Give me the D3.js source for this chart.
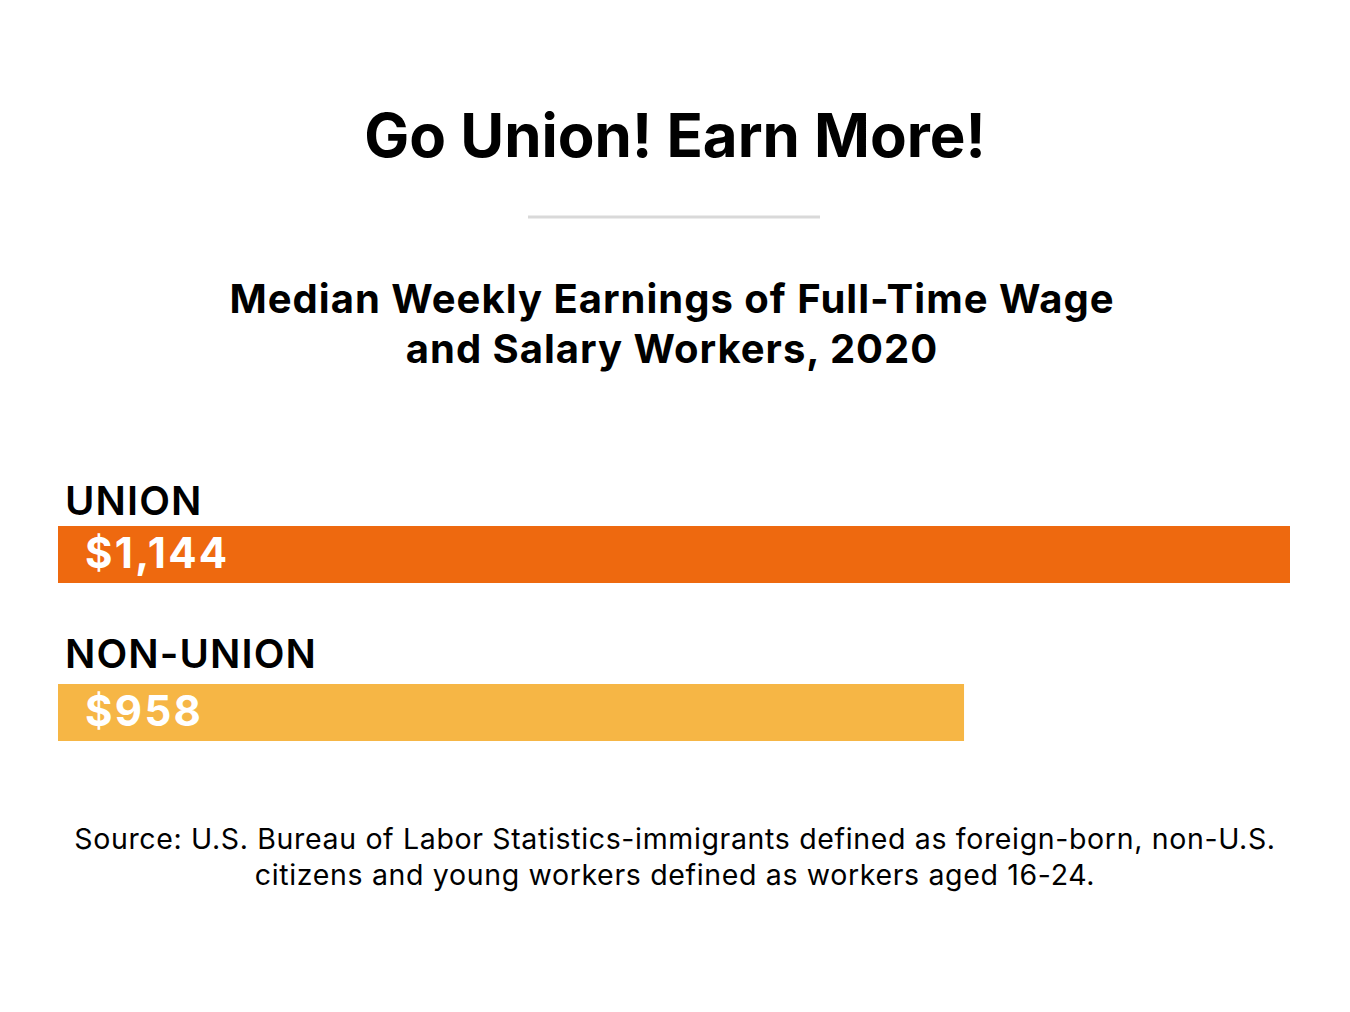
<!DOCTYPE html>
<html><head><meta charset="utf-8">
<script src="https://cdn.jsdelivr.net/npm/d3@7"></script>
<style>
body{margin:0;background:#fff;}
svg{display:block;font-family:Inter, "Noto Sans", sans-serif;}
</style></head>
<body>
<script>
const categories = ["UNION", "NON-UNION"];
const values = [1144, 958];
const valueLabels = ["$1,144", "$958"];
const colors = ["#EE690F", "#F6B645"];
const title = "Go Union! Earn More!";
const subtitleLines = ["Median Weekly Earnings of Full-Time Wage", "and Salary Workers, 2020"];
const sourceLines = ["Source: U.S. Bureau of Labor Statistics-immigrants defined as foreign-born, non-U.S.", "citizens and young workers defined as workers aged 16-24."];

const W = 1350, H = 1012;
const svg = d3.select("body").append("svg").attr("width", W).attr("height", H);

svg.append("text").attr("x", 675).attr("y", 157).attr("text-anchor", "middle")
  .attr("font-size", 60).attr("font-weight", 700).attr("fill", "#000").text(title);

svg.append("line").attr("x1", 528).attr("x2", 820).attr("y1", 217).attr("y2", 217)
  .attr("stroke", "#d9d9d9").attr("stroke-width", 3);

svg.selectAll("text.sub").data(subtitleLines).join("text").attr("class", "sub")
  .attr("x", 672).attr("y", (d, i) => 313 + i * 50).attr("text-anchor", "middle")
  .attr("font-size", 40).attr("font-weight", 700).attr("letter-spacing", 1)
  .attr("fill", "#000").text(d => d);

const x = d3.scaleLinear().domain([441, 1144]).range([0, 1232]);
const xLeft = 58;
const y = d3.scaleOrdinal().domain(categories).range([526, 684]);
const labelGap = d3.scaleOrdinal().domain(categories).range([11, 16]);
const barH = 57;

const g = svg.append("g").attr("transform", `translate(${xLeft},0)`);
g.selectAll("rect.bar").data(categories).join("rect").attr("class", "bar")
  .attr("x", 0).attr("y", d => y(d)).attr("height", barH)
  .attr("width", (d, i) => x(values[i])).attr("fill", (d, i) => colors[i]);

g.selectAll("text.cat").data(categories).join("text").attr("class", "cat")
  .attr("x", 7).attr("y", d => y(d) - labelGap(d)).attr("font-size", 40).attr("font-weight", 600)
  .attr("letter-spacing", 1.1).attr("fill", "#000").text(d => d);

g.selectAll("text.val").data(categories).join("text").attr("class", "val")
  .attr("x", 27).attr("y", d => y(d) + 42).attr("font-size", 42).attr("font-weight", 700)
  .attr("letter-spacing", 2.3).attr("fill", "#fff").text((d, i) => valueLabels[i]);

svg.selectAll("text.src").data(sourceLines).join("text").attr("class", "src")
  .attr("x", 675).attr("y", (d, i) => 849 + i * 36).attr("text-anchor", "middle")
  .attr("font-size", 28.5).attr("font-weight", 400).attr("letter-spacing", 0.65)
  .attr("fill", "#000").text(d => d);
</script>
</body></html>
